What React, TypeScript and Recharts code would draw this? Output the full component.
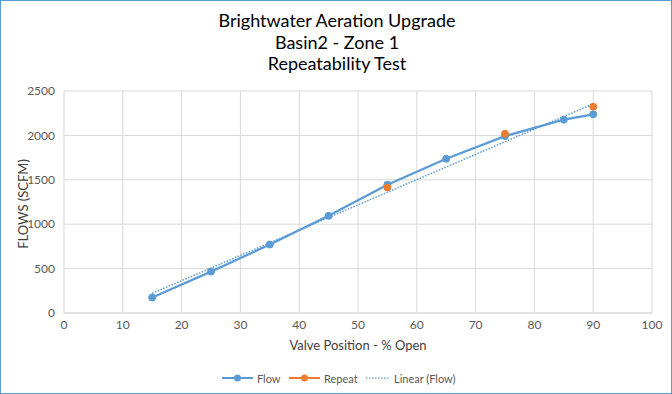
import { LineChart, Line, XAxis, YAxis, CartesianGrid } from "recharts";

const flowPosition = [15, 25, 35, 45, 55, 65, 75, 85, 90];
const flowScfm = [175, 466, 771, 1094, 1444, 1737, 1992, 2177, 2237];

const repeatPosition = [55, 75, 90];
const repeatScfm = [1414, 2019, 2323];

// Excel "Linear (Flow)" trendline, end points
const trendPosition = [15, 90];
const trendScfm = [222, 2355];

const xTicks = [0, 10, 20, 30, 40, 50, 60, 70, 80, 90, 100];
const yTicks = [0, 500, 1000, 1500, 2000, 2500];

const titleLines = ["Brightwater Aeration Upgrade", "Basin2 - Zone 1", "Repeatability Test"];

const BLUE = "#5B9BD5";
const ORANGE = "#ED7D31";
const FONT = "Lato, 'Open Sans', sans-serif";

const toPoints = (xs: number[], ys: number[]) => xs.map((x, i) => ({ x, y: ys[i] }));

const flowData = toPoints(flowPosition, flowScfm);
const repeatData = toPoints(repeatPosition, repeatScfm);
const trendData = toPoints(trendPosition, trendScfm);

function LegendItem({
  left,
  iconWidth,
  color,
  label,
  dotted,
  marker,
}: {
  left: number;
  iconWidth: number;
  color: string;
  label: string;
  dotted?: boolean;
  marker?: boolean;
}) {
  return (
    <div style={{ position: "absolute", left, top: 369, display: "flex", alignItems: "center", height: 16 }}>
      <svg width={iconWidth} height={10} style={{ marginRight: 4 }}>
        <line
          x1={0}
          y1={5}
          x2={iconWidth}
          y2={5}
          stroke={color}
          strokeWidth={dotted ? 1.25 : 2}
          strokeDasharray={dotted ? "1.5 1.5" : undefined}
        />
        {marker && <circle cx={iconWidth / 2} cy={5} r={3.5} fill={color} />}
      </svg>
      <span style={{ whiteSpace: "nowrap" }}>{label}</span>
    </div>
  );
}

export default function App() {
  return (
    <div
      style={{
        position: "absolute",
        left: 0,
        top: 0,
        width: 672,
        height: 394,
        boxSizing: "border-box",
        border: `1px solid ${BLUE}`,
        background: "#fff",
        fontFamily: FONT,
      }}
    >
      <div
        style={{
          position: "absolute",
          left: 0,
          top: 9,
          width: 672,
          textAlign: "center",
          fontSize: 18,
          lineHeight: "21.5px",
          color: "#000",
        }}
      >
        {titleLines.map((t) => (
          <div key={t}>{t}</div>
        ))}
      </div>

      <div style={{ position: "absolute", left: -1, top: -1 }}>
        <LineChart width={672} height={394} margin={{ top: 91, right: 20, bottom: 51, left: 6 }}>
          <CartesianGrid stroke="#d9d9d9" strokeWidth={1} />
          <XAxis
            type="number"
            dataKey="x"
            domain={[0, 100]}
            ticks={xTicks}
            height={30}
            tickSize={0}
            tickMargin={7}
            axisLine={{ stroke: "#d9d9d9" }}
            tickLine={false}
            tick={{ fill: "#595959", fontSize: 12, fontFamily: FONT }}
            allowDataOverflow
          />
          <YAxis
            type="number"
            dataKey="y"
            domain={[0, 2500]}
            ticks={yTicks}
            width={58}
            tickSize={0}
            tickMargin={9}
            axisLine={false}
            tickLine={false}
            tick={{ fill: "#595959", fontSize: 12, fontFamily: FONT }}
          />
          <Line
            data={flowData}
            dataKey="y"
            stroke={BLUE}
            strokeWidth={2.25}
            dot={{ r: 3.5, fill: BLUE, stroke: BLUE, strokeWidth: 1 }}
            isAnimationActive={false}
          />
          <Line
            data={repeatData}
            dataKey="y"
            stroke="none"
            dot={{ r: 3.5, fill: ORANGE, stroke: ORANGE, strokeWidth: 1 }}
            isAnimationActive={false}
          />
          <Line
            data={trendData}
            dataKey="y"
            stroke={BLUE}
            strokeWidth={1.5}
            strokeDasharray="1.5 1.5"
            dot={false}
            isAnimationActive={false}
          />
        </LineChart>
      </div>

      <div
        style={{
          position: "absolute",
          left: 8,
          top: 193,
          width: 28,
          height: 20,
          display: "flex",
          justifyContent: "center",
          alignItems: "center",
        }}
      >
        <div
          style={{
            transform: "rotate(-90deg)",
            whiteSpace: "nowrap",
            fontSize: 13,
            color: "#404040",
          }}
        >
          FLOWS (SCFM)
        </div>
      </div>

      <div
        style={{
          position: "absolute",
          left: 257,
          top: 336,
          width: 200,
          textAlign: "center",
          fontSize: 13,
          color: "#404040",
        }}
      >
        Valve Position - % Open
      </div>

      <div style={{ fontSize: 11, color: "#595959" }}>
        <LegendItem left={221} iconWidth={31} color={BLUE} label="Flow" marker />
        <LegendItem left={288} iconWidth={31} color={ORANGE} label="Repeat" marker />
        <LegendItem left={365} iconWidth={24} color={BLUE} label="Linear (Flow)" dotted />
      </div>
    </div>
  );
}
